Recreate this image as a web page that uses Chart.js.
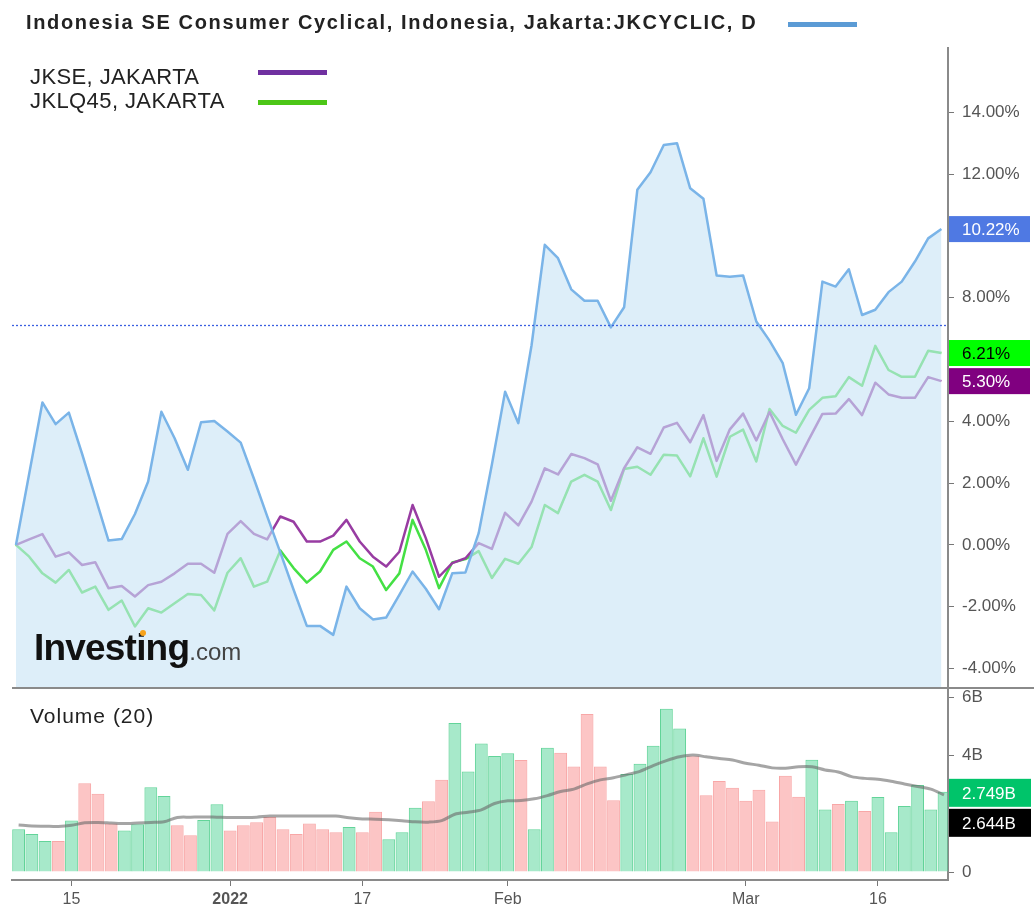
<!DOCTYPE html>
<html>
<head>
<meta charset="utf-8">
<script src="https://cdn.jsdelivr.net/npm/chart.js@4.4.1/dist/chart.umd.min.js"></script>
<style>
  body { margin: 0; background: #fff; font-family: "Liberation Sans", Arial, sans-serif; }
  #wrap { position: relative; width: 1034px; height: 919px; overflow: hidden; }
  canvas { position: absolute; left: 0; }
  .txt { position: absolute; white-space: nowrap; color: #222; }
  .key { position: absolute; height: 5px; }
</style>
</head>
<body>
<div id="wrap">
  <canvas id="priceChart" width="1034" height="688" style="top:0"></canvas>
  <canvas id="volChart" width="1034" height="231" style="top:688px"></canvas>
  <div style="position:absolute;left:12px;top:687px;width:1022px;height:2px;background:#8a8a8a"></div>

  <div class="txt" style="left:26px;top:12px;font-size:20px;line-height:20px;font-weight:bold;letter-spacing:1.65px">Indonesia SE Consumer Cyclical, Indonesia, Jakarta:JKCYCLIC, D</div>
  <div class="key" style="left:788px;top:22px;width:69px;background:#5b9bd5"></div>

  <div class="txt" style="left:30px;top:66px;font-size:22px;line-height:22px;letter-spacing:0.4px">JKSE, JAKARTA</div>
  <div class="key" style="left:258px;top:70px;width:69px;background:#7030a0"></div>
  <div class="txt" style="left:30px;top:90px;font-size:22px;line-height:22px;letter-spacing:0.4px">JKLQ45, JAKARTA</div>
  <div class="key" style="left:258px;top:100px;width:69px;background:#4cc617"></div>

  <div class="txt" style="left:34px;top:629px;font-size:37px;line-height:37px;font-weight:bold;letter-spacing:-0.8px;color:#111">Investing<span style="font-size:24px;font-weight:normal;letter-spacing:0;color:#444">.com</span></div>
  <div style="position:absolute;left:140px;top:630px;width:6px;height:6px;border-radius:3px;background:#f7a21b"></div>

  <div class="txt" style="left:30px;top:705px;font-size:21px;line-height:21px;letter-spacing:1px">Volume (20)</div>
</div>

<script>
// trading days on the x axis
const dates = [
  '2021-12-09','2021-12-10','2021-12-13','2021-12-14','2021-12-15','2021-12-16','2021-12-17','2021-12-20',
  '2021-12-21','2021-12-22','2021-12-23','2021-12-24','2021-12-27','2021-12-28','2021-12-29','2021-12-30',
  '2022-01-03','2022-01-04','2022-01-05','2022-01-06','2022-01-07','2022-01-10','2022-01-11','2022-01-12',
  '2022-01-13','2022-01-14','2022-01-17','2022-01-18','2022-01-19','2022-01-20','2022-01-21','2022-01-24',
  '2022-01-25','2022-01-26','2022-01-27','2022-01-28','2022-01-31','2022-02-02','2022-02-03','2022-02-04',
  '2022-02-07','2022-02-08','2022-02-09','2022-02-10','2022-02-11','2022-02-14','2022-02-15','2022-02-16',
  '2022-02-17','2022-02-18','2022-02-21','2022-02-22','2022-02-23','2022-02-24','2022-02-25','2022-03-01',
  '2022-03-02','2022-03-04','2022-03-07','2022-03-08','2022-03-09','2022-03-10','2022-03-11','2022-03-14',
  '2022-03-15','2022-03-16','2022-03-17','2022-03-18','2022-03-21','2022-03-22','2022-03-23'
];
const tickDates = ['2021-12-15', '2022-01-03', '2022-01-17', '2022-02-02', '2022-03-01', '2022-03-16'];
const tickText = ['15', '2022', '17', 'Feb', 'Mar', '16'];

// % change since first day
const jkcyclic = [
  0.00, 2.30, 4.61, 3.91, 4.28, 2.95, 1.55, 0.14, 0.19, 1.00,
  2.05, 4.31, 3.45, 2.43, 3.97, 4.01, 3.67, 3.31, 2.14, 0.93,
  -0.25, -1.45, -2.62, -2.62, -2.91, -1.35, -2.05, -2.41, -2.35, -1.62,
  -0.86, -1.42, -2.08, -0.92, -0.89, 0.38, 2.60, 4.96, 3.94, 6.46,
  9.71, 9.28, 8.27, 7.90, 7.90, 7.04, 7.69, 11.49, 12.06, 12.94,
  13.00, 11.54, 11.20, 8.72, 8.68, 8.72, 7.23, 6.61, 5.88, 4.21,
  5.07, 8.52, 8.36, 8.92, 7.44, 7.61, 8.18, 8.52, 9.17, 9.92,
  10.22
];
const jkse = [
  0.00, 0.18, 0.35, -0.38, -0.24, -0.65, -0.56, -1.40, -1.33, -1.67,
  -1.30, -1.19, -0.92, -0.61, -0.61, -0.90, 0.36, 0.77, 0.36, 0.18,
  0.92, 0.75, 0.11, 0.11, 0.30, 0.81, 0.11, -0.38, -0.70, -0.22,
  1.29, 0.22, -1.03, -0.59, -0.43, 0.06, -0.13, 1.04, 0.63, 1.40,
  2.48, 2.28, 2.94, 2.81, 2.61, 1.43, 2.48, 3.16, 2.95, 3.80,
  3.95, 3.32, 4.20, 2.72, 3.74, 4.25, 3.38, 4.30, 3.42, 2.60,
  3.43, 4.24, 4.25, 4.72, 4.20, 5.25, 4.87, 4.76, 4.76, 5.43,
  5.30
];
const jklq45 = [
  0.00, -0.38, -0.92, -1.22, -0.81, -1.54, -1.35, -2.10, -1.80, -2.64,
  -2.05, -2.19, -1.89, -1.59, -1.62, -2.12, -0.90, -0.43, -1.35, -1.19,
  -0.18, -0.75, -1.22, -0.86, -0.16, 0.11, -0.43, -0.70, -1.46, -0.92,
  0.81, -0.16, -1.40, -0.57, -0.46, -0.20, -1.07, -0.45, -0.61, -0.07,
  1.29, 1.03, 2.05, 2.27, 2.05, 1.13, 2.46, 2.53, 2.27, 2.92,
  2.89, 2.22, 3.45, 2.21, 3.50, 3.73, 2.70, 4.40, 3.85, 3.63,
  4.37, 4.76, 4.81, 5.43, 5.15, 6.44, 5.66, 5.44, 5.44, 6.28,
  6.21
];
const refLevel = 7.12;   // dotted blue line
const pctTicks = [-4, -2, 0, 2, 4, 6, 8, 10, 12, 14];

// volume in billions, 1 = up day
const volume = [
  1.47, 1.30, 1.06, 1.06, 1.77, 3.04, 2.68, 1.66, 1.42, 1.64,
  2.91, 2.61, 1.60, 1.26, 1.78, 2.32, 1.42, 1.60, 1.71, 1.89,
  1.47, 1.30, 1.66, 1.47, 1.36, 1.54, 1.36, 2.07, 1.12, 1.36,
  2.20, 2.43, 3.16, 5.11, 3.45, 4.41, 3.98, 4.07, 3.84, 1.47,
  4.26, 4.09, 3.62, 5.42, 3.62, 2.46, 3.36, 3.71, 4.33, 5.60,
  4.92, 3.97, 2.63, 3.12, 2.89, 2.44, 2.82, 1.73, 3.30, 2.58,
  3.85, 2.14, 2.33, 2.44, 2.09, 2.57, 1.36, 2.26, 2.98, 2.14,
  2.749
];
const volumeUp = [
  1, 1, 1, 0, 1, 0, 0, 0, 1, 1,
  1, 1, 0, 0, 1, 1, 0, 0, 0, 0,
  0, 0, 0, 0, 0, 1, 0, 0, 1, 1,
  1, 0, 0, 1, 1, 1, 1, 1, 0, 1,
  1, 0, 0, 0, 0, 0, 1, 1, 1, 1,
  1, 0, 0, 0, 0, 0, 0, 0, 0, 0,
  1, 1, 0, 1, 0, 1, 1, 1, 1, 1,
  1
];
const volumeMA = [
  1.61, 1.58, 1.57, 1.56, 1.60, 1.69, 1.70, 1.68, 1.66, 1.68,
  1.70, 1.72, 1.87, 1.88, 1.89, 1.88, 1.87, 1.87, 1.88, 1.92,
  1.92, 1.92, 1.92, 1.92, 1.92, 1.86, 1.82, 1.81, 1.79, 1.76,
  1.72, 1.71, 1.76, 1.98, 2.05, 2.13, 2.35, 2.44, 2.45, 2.51,
  2.62, 2.76, 2.84, 3.02, 3.16, 3.23, 3.34, 3.45, 3.65, 3.82,
  3.95, 4.01, 3.95, 3.89, 3.84, 3.73, 3.66, 3.57, 3.56, 3.61,
  3.61, 3.50, 3.43, 3.27, 3.21, 3.18, 3.11, 3.02, 2.93, 2.84,
  2.644
];
const volTicks = [0, 2, 4, 6];
const volTickText = ['0', '', '4B', '6B'];   // 2B sits under the value tags

Chart.defaults.font.family = '"Liberation Sans", Arial, sans-serif';
Chart.defaults.color = '#555';

const pts = arr => arr.map((v, i) => ({ x: i, y: v }));
const last = arr => arr[arr.length - 1];

function fixAxis(w) {
  return s => { s.width = w; s.paddingTop = 0; s.paddingBottom = 0; };
}

// dotted level + price tags on the right axis
const priceDecor = {
  id: 'priceDecor',
  afterDatasetsDraw(chart) {
    const { ctx, chartArea: a, scales: { y } } = chart;
    const py = Math.round(y.getPixelForValue(refLevel)) + 0.5;
    ctx.save();
    ctx.strokeStyle = '#3b5fe0';
    ctx.lineWidth = 1.3;
    ctx.setLineDash([2, 2]);
    ctx.beginPath();
    ctx.moveTo(a.left, py);
    ctx.lineTo(a.right, py);
    ctx.stroke();
    ctx.restore();
  },
  afterDraw(chart) {
    const { ctx, chartArea: a, scales: { y } } = chart;
    const tags = [
      { v: last(jkcyclic), bg: '#4f79e3', fg: '#fff' },
      { v: last(jklq45), bg: '#00ff00', fg: '#000' },
      { v: last(jkse), bg: '#800080', fg: '#fff' }
    ];
    ctx.save();
    ctx.font = '17px "Liberation Sans", Arial';
    ctx.textBaseline = 'middle';
    tags.forEach(t => {
      const py = y.getPixelForValue(t.v);
      ctx.fillStyle = t.bg;
      ctx.fillRect(a.right + 1, py - 13, 81, 26);
      ctx.fillStyle = t.fg;
      ctx.fillText(t.v.toFixed(2) + '%', a.right + 14, py + 1);
    });
    ctx.restore();
  }
};

new Chart(document.getElementById('priceChart'), {
  type: 'line',
  data: {
    datasets: [
      {
        label: 'Indonesia SE Consumer Cyclical',
        data: pts(jkcyclic),
        borderColor: '#7ab4e8',
        borderWidth: 2.5,
        backgroundColor: 'rgba(200, 228, 246, 0.62)',
        fill: 'start',
        order: 0
      },
      {
        label: 'JKSE, JAKARTA',
        data: pts(jkse),
        borderColor: '#983ca2',
        borderWidth: 2.5,
        fill: false,
        order: 1
      },
      {
        label: 'JKLQ45, JAKARTA',
        data: pts(jklq45),
        borderColor: '#44e044',
        borderWidth: 2.5,
        fill: false,
        order: 2
      }
    ]
  },
  options: {
    responsive: false,
    animation: false,
    layout: { padding: { left: 12, top: 48, right: 0, bottom: 0 } },
    elements: { point: { radius: 0 }, line: { tension: 0, borderJoinStyle: 'round' } },
    plugins: { legend: { display: false }, tooltip: { enabled: false } },
    scales: {
      x: { type: 'linear', display: false, min: -0.3, max: 70.5 },
      y: {
        position: 'right',
        min: -4.63,
        max: 16.08,
        afterBuildTicks: s => { s.ticks = pctTicks.map(v => ({ value: v })); },
        afterFit: fixAxis(86),
        grid: { drawOnChartArea: false, tickLength: 6, color: '#777' },
        border: { color: '#8a8a8a', width: 2 },
        ticks: {
          padding: 8,
          font: { size: 17 },
          color: '#555',
          callback: v => v.toFixed(2) + '%'
        }
      }
    }
  },
  plugins: [priceDecor]
});

// volume tags on the right axis
const volDecor = {
  id: 'volDecor',
  afterDraw(chart) {
    const { ctx, chartArea: a, scales: { y } } = chart;
    const tags = [
      { v: last(volume), bg: '#00c46a' },
      { v: last(volumeMA), bg: '#000' }
    ];
    ctx.save();
    ctx.font = '17px "Liberation Sans", Arial';
    ctx.textBaseline = 'middle';
    let prevBottom = -Infinity;
    tags.forEach(t => {
      let top = y.getPixelForValue(t.v) - 13;
      if (top < prevBottom + 2) top = prevBottom + 2;
      ctx.fillStyle = t.bg;
      ctx.fillRect(a.right + 1, top, 82, 28);
      ctx.fillStyle = '#fff';
      ctx.fillText(t.v.toFixed(3) + 'B', a.right + 14, top + 15);
      prevBottom = top + 28;
    });
    ctx.restore();
  }
};

new Chart(document.getElementById('volChart'), {
  type: 'bar',
  data: {
    datasets: [
      {
        type: 'line',
        label: 'Volume MA',
        data: pts(volumeMA),
        borderColor: 'rgba(105, 105, 105, 0.6)',
        borderWidth: 3,
        pointRadius: 0,
        tension: 0.3,
        order: 0
      },
      {
        label: 'Volume',
        data: pts(volume),
        backgroundColor: volumeUp.map(u => u ? 'rgba(80, 212, 150, 0.5)' : 'rgba(250, 140, 140, 0.5)'),
        borderColor: volumeUp.map(u => u ? 'rgba(70, 205, 135, 0.85)' : 'rgba(245, 130, 130, 0.7)'),
        borderWidth: 1,
        barPercentage: 0.97,
        categoryPercentage: 1,
        order: 1
      }
    ]
  },
  options: {
    responsive: false,
    animation: false,
    layout: { padding: { left: 12, top: 2, right: 0, bottom: 0 } },
    plugins: { legend: { display: false }, tooltip: { enabled: false } },
    scales: {
      x: {
        type: 'linear',
        offset: false,
        min: -0.5,
        max: 70.3,
        afterBuildTicks: s => {
          s.ticks = tickDates.map(d => ({ value: dates.indexOf(d) }));
        },
        afterFit: s => { s.height = 39; s.paddingLeft = 0; s.paddingRight = 0; },
        grid: { offset: false, drawOnChartArea: false, tickLength: 6, color: '#777' },
        border: { color: '#8a8a8a', width: 2 },
        ticks: {
          padding: 4,
          color: '#555',
          maxRotation: 0,
          autoSkip: false,
          font: c => ({ size: 16, weight: c.tick && c.tick.label === '2022' ? 'bold' : 'normal' }),
          callback: v => tickText[tickDates.indexOf(dates[v])]
        }
      },
      y: {
        position: 'right',
        min: -0.274,
        max: 6.24,
        afterBuildTicks: s => { s.ticks = volTicks.map(v => ({ value: v })); },
        afterFit: fixAxis(86),
        grid: { drawOnChartArea: false, tickLength: 6, color: '#777' },
        border: { color: '#8a8a8a', width: 2 },
        ticks: {
          padding: 8,
          font: { size: 17 },
          color: '#555',
          callback: v => volTickText[volTicks.indexOf(v)]
        }
      }
    }
  },
  plugins: [volDecor]
});
</script>
</body>
</html>
